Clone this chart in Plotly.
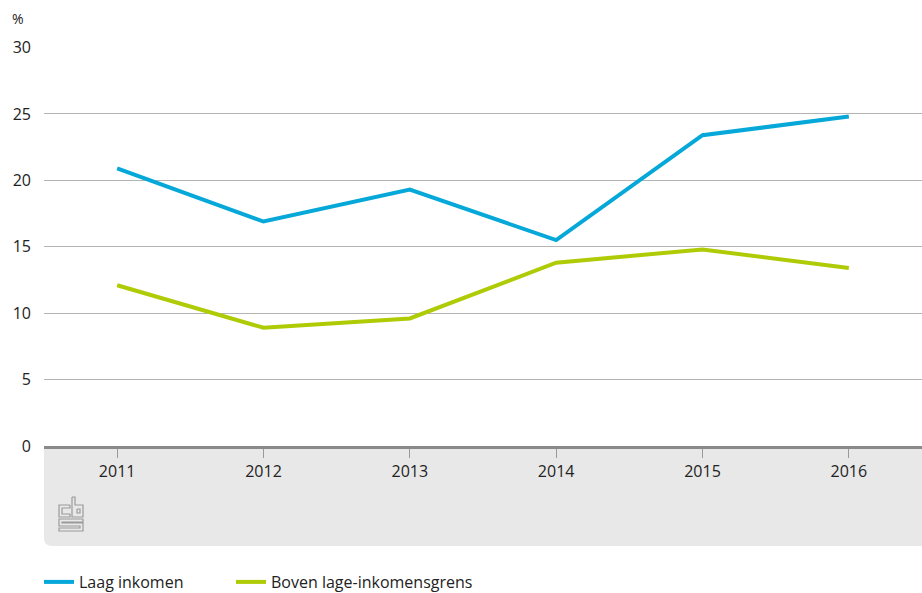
import plotly.graph_objects as go

years = ["2011", "2012", "2013", "2014", "2015", "2016"]
laag_inkomen = [20.9, 16.9, 19.3, 15.5, 23.4, 24.8]
boven_grens = [12.1, 8.9, 9.6, 13.8, 14.8, 13.4]
y_ticks = [0, 5, 10, 15, 20, 25, 30]

BLUE = "#05a8d8"
GREEN = "#afcb05"
FONT = "Open Sans"

W, H = 922, 593
L, R, T, B = 44, 0, 47, 147
PW, PH = W - L - R, H - T - B


def px(x):
    return (x - L) / PW


def py(y):
    return (H - B - y) / PH


fig = go.Figure()
fig.add_trace(go.Scatter(x=years, y=laag_inkomen, name="Laag inkomen", mode="lines",
                         line=dict(color=BLUE, width=4), legend="legend"))
fig.add_trace(go.Scatter(x=years, y=boven_grens, name="Boven lage-inkomensgrens", mode="lines",
                         line=dict(color=GREEN, width=4), legend="legend2"))

shapes = []
# grey footer panel under the x axis, rounded at the bottom-left
r_x, r_y = 8 / PW, 8 / PH
y0, y1 = py(446), py(546)
shapes.append(dict(
    type="path", xref="paper", yref="paper", layer="below",
    path=(f"M 0,{y0} L 1,{y0} L 1,{y1} L {r_x},{y1} "
          f"Q 0,{y1} 0,{y1 + r_y} Z"),
    fillcolor="#e8e8e8", line=dict(width=0)))

# cbs logo drawn as outlined strokes
logo_paths = [
    # c
    [(70, 505), (59, 505), (59, 517), (70, 517), (70, 514), (62, 514), (62, 508), (70, 508), (70, 505)],
    # b
    [(72, 497), (75, 497), (75, 505), (83, 505), (83, 517), (72, 517), (72, 497)],
    [(77, 509), (80, 509), (80, 513), (77, 513), (77, 509)],
    # s
    [(83, 519), (59, 519), (59, 526), (80, 526), (80, 528), (59, 528), (59, 531), (83, 531),
     (83, 523), (62, 523), (62, 522), (83, 522), (83, 519)],
]
for pts in logo_paths:
    d = "M " + " L ".join(f"{px(x)},{py(y)}" for x, y in pts)
    shapes.append(dict(type="path", xref="paper", yref="paper", layer="above",
                       path=d, line=dict(color="#9a9a9a", width=1.2)))

legend_style = dict(orientation="h", xanchor="left", y=py(582), yanchor="middle",
                    font=dict(size=16, color="#222222"), bgcolor="rgba(0,0,0,0)")

fig.update_layout(
    width=W, height=H,
    margin=dict(l=L, r=R, t=T, b=B, autoexpand=False),
    paper_bgcolor="white", plot_bgcolor="white",
    font=dict(family=FONT, size=16, color="#222222"),
    showlegend=True,
    legend=dict(x=px(39), **legend_style),
    legend2=dict(x=px(231), **legend_style),
    shapes=shapes,
    annotations=[dict(text="%", xref="paper", yref="paper", x=px(10), y=py(18),
                      xanchor="left", yanchor="middle", showarrow=False,
                      font=dict(size=14, color="#222222"))],
)
fig.update_xaxes(type="category", range=[-0.5, 5.5], showgrid=False,
                 showline=True, linecolor="#8a8a8a", linewidth=3,
                 ticks="outside", ticklen=9, tickcolor="#9a9a9a", tickwidth=1.2,
                 tickfont=dict(size=16), fixedrange=True)
fig.update_yaxes(range=[0, 30.04], tickvals=y_ticks, showgrid=True, gridcolor="#b4b4b4",
                 gridwidth=1, zeroline=False, showline=False, ticks="",
                 tickfont=dict(size=16), ticklabelstandoff=12, fixedrange=True)

fig.write_html("out.html")
